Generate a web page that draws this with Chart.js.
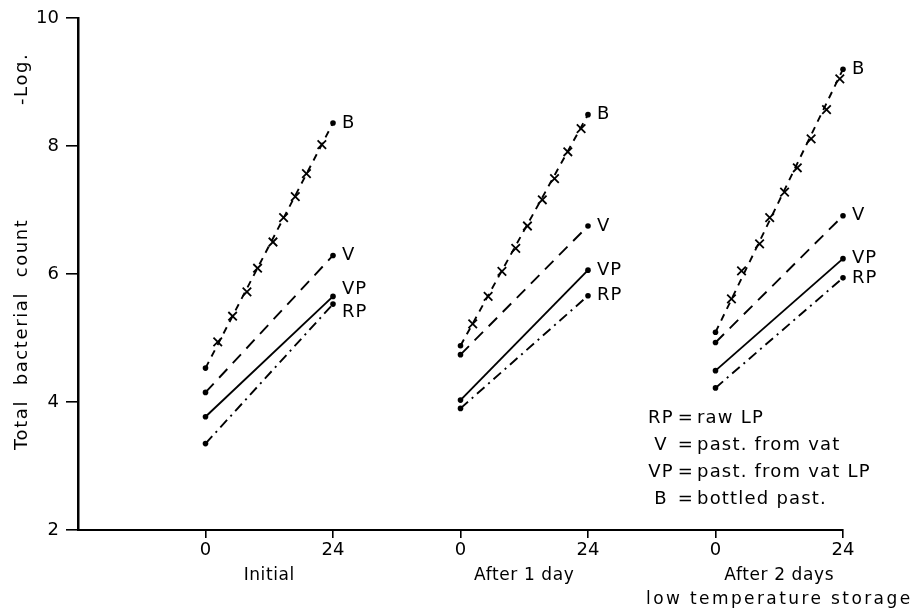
<!DOCTYPE html>
<html>
<head>
<meta charset="utf-8">
<script src="https://cdn.jsdelivr.net/npm/chart.js@4.4.1/dist/chart.umd.min.js"></script>
<style>
  html, body { margin: 0; padding: 0; background: #fff; }
  #wrap { width: 921px; height: 615px; }
</style>
</head>
<body>
<div id="wrap"><canvas id="chart"></canvas></div>
<script>
// values (log count), start = 0 h, end = 24 h
const groupNames = ['Initial', 'After 1 day', 'After 2 days'];
const hourTicks = [0, 24];
const yTicks = [2, 4, 6, 8, 10];

const bValues = [[4.53, 8.36], [4.88, 8.49], [5.09, 9.20]];
const vValues = [[4.15, 6.29], [4.74, 6.75], [4.93, 6.91]];
const vpValues = [[3.77, 5.65], [4.03, 6.06], [4.49, 6.24]];
const rpValues = [[3.35, 5.53], [3.90, 5.66], [4.22, 5.94]];

// the x marks drawn along the B lines
const bMarkHours = [
  [2.3, 5.1, 7.8, 9.8, 12.7, 14.7, 16.9, 19.0, 21.9],
  [2.3, 5.2, 7.8, 10.4, 12.6, 15.4, 17.7, 20.2, 22.7],
  [3.0, 4.9, 8.3, 10.2, 13.0, 15.4, 18.0, 20.9, 23.4]
];
const bMarkValues = [
  [4.94, 5.34, 5.72, 6.09, 6.50, 6.88, 7.21, 7.57, 8.02],
  [5.22, 5.65, 6.04, 6.40, 6.75, 7.16, 7.49, 7.91, 8.27],
  [5.61, 6.05, 6.47, 6.88, 7.28, 7.66, 8.11, 8.57, 9.05]
];

const keyLines = [
  ['RP', 'raw LP'],
  ['V', 'past. from vat'],
  ['VP', 'past. from vat LP'],
  ['B', 'bottled past.']
];

const FONT = "'DejaVu Sans', sans-serif";

// each group sits 48 h further along the shared axis
function offset(g) {
  return g * 48;
}

const series = [
  { key: 'B', values: bValues, dash: [7, 6] },
  { key: 'V', values: vValues, dash: [12, 8] },
  { key: 'VP', values: vpValues, dash: [] },
  { key: 'RP', values: rpValues, dash: [10, 5, 2, 5] }
];

const datasets = [];
for (let g = 0; g < groupNames.length; g++) {
  series.forEach(s => {
    datasets.push({
      tag: s.key,
      group: g,
      data: hourTicks.map((h, i) => ({ x: offset(g) + h, y: s.values[g][i] })),
      borderColor: '#000',
      borderWidth: 1.9,
      borderDash: s.dash,
      pointRadius: 2.8,
      pointBackgroundColor: '#000',
      pointBorderWidth: 0,
      tension: 0,
      clip: false
    });
  });
  datasets.push({
    data: bMarkHours[g].map((h, i) => ({ x: offset(g) + h, y: bMarkValues[g][i] })),
    showLine: false,
    pointStyle: 'crossRot',
    pointRadius: 6,
    borderColor: '#000',
    borderWidth: 1.8,
    clip: false
  });
}

// small nudges so the end labels do not collide
const labelNudge = { '0-VP': -7, '0-RP': 8 };

const textPlugin = {
  id: 'texts',
  afterDraw(chart) {
    const ctx = chart.ctx;
    const x = chart.scales.x;
    const area = chart.chartArea;
    ctx.save();
    ctx.fillStyle = '#000';
    ctx.textBaseline = 'middle';

    // series names at the 24 h end of each line
    ctx.font = '18px ' + FONT;
    ctx.letterSpacing = '1px';
    chart.data.datasets.forEach((ds, i) => {
      if (!ds.tag) return;
      const pts = chart.getDatasetMeta(i).data;
      const p = pts[pts.length - 1];
      const dy = labelNudge[ds.group + '-' + ds.tag] || 0;
      ctx.textAlign = 'left';
      ctx.fillText(ds.tag, p.x + 9, p.y + dy);
    });

    // group names under the hour ticks
    ctx.font = '17px ' + FONT;
    ctx.letterSpacing = '0.6px';
    ctx.textAlign = 'center';
    groupNames.forEach((name, g) => {
      const cx = x.getPixelForValue(offset(g) + 12);
      ctx.fillText(name, cx, area.bottom + 46);
    });
    ctx.letterSpacing = '2.4px';
    ctx.fillText('low temperature storage',
      x.getPixelForValue(offset(2) + 12), area.bottom + 70);

    // key block
    ctx.font = '18px ' + FONT;
    ctx.letterSpacing = '1.2px';
    const y0 = area.top + 400;
    keyLines.forEach((ln, i) => {
      const yy = y0 + i * 27;
      ctx.textAlign = 'center';
      ctx.fillText(ln[0], 661, yy);
      ctx.fillText('=', 686, yy);
      ctx.textAlign = 'left';
      ctx.fillText(ln[1], 697, yy);
    });

    // axis title, read from bottom to top
    ctx.font = '18px ' + FONT;
    ctx.letterSpacing = '1.6px';
    ctx.textAlign = 'left';
    ctx.translate(22, area.top + 432);
    ctx.rotate(-Math.PI / 2);
    ctx.fillText('Total  bacterial  count', 0, 0);
    ctx.fillText('-Log.', 345, 0);
    ctx.restore();
  }
};

new Chart(document.getElementById('chart'), {
  type: 'line',
  data: { datasets },
  options: {
    responsive: true,
    maintainAspectRatio: false,
    animation: false,
    layout: { padding: { top: 18, right: 78, left: 0, bottom: 0 } },
    plugins: {
      legend: { display: false },
      tooltip: { enabled: false }
    },
    scales: {
      x: {
        type: 'linear',
        min: -24,
        max: 120,
        afterBuildTicks: s => {
          s.ticks = [0, 1, 2].flatMap(g => hourTicks.map(h => ({ value: offset(g) + h })));
        },
        afterFit: s => { s.height = 85; },
        grid: { display: true, drawOnChartArea: false, drawTicks: true, tickLength: 8, color: '#000', lineWidth: 1.6 },
        border: { display: true, color: '#000', width: 2 },
        ticks: {
          color: '#000',
          padding: 2,
          maxRotation: 0,
          font: { family: FONT, size: 18 },
          callback: v => String(v % 48)
        }
      },
      y: {
        min: 2,
        max: 10,
        afterBuildTicks: s => { s.ticks = yTicks.map(v => ({ value: v })); },
        afterFit: s => { s.width = 78; },
        grid: { display: true, drawOnChartArea: false, drawTicks: true, tickLength: 12, color: '#000', lineWidth: 1.6 },
        border: { display: true, color: '#000', width: 2.5 },
        ticks: {
          color: '#000',
          padding: 7,
          font: { family: FONT, size: 18 }
        }
      }
    }
  },
  plugins: [textPlugin]
});
</script>
</body>
</html>
